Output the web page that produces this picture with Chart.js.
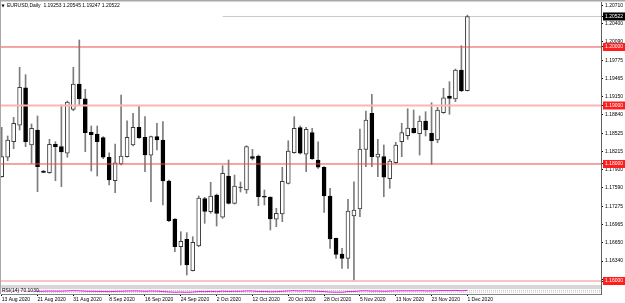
<!DOCTYPE html>
<html>
<head>
<meta charset="utf-8">
<script src="https://cdn.jsdelivr.net/npm/chart.js@4.4.0/dist/chart.umd.min.js"></script>
<style>
  html, body { margin: 0; padding: 0; background: #fff; }
  canvas { display: block; }
</style>
</head>
<body>
<canvas id="eurusd" width="625" height="303"></canvas>
<script>
// EURUSD daily bars, 13 Aug 2020 .. 1 Dec 2020
const opens = [1.17783,1.18115,1.18381,1.18662,1.19304,1.18325,1.18581,1.17880,1.17851,1.18337,
  1.18296,1.18183,1.18935,1.19368,1.19116,1.18542,1.18513,1.18450,1.18115,1.17714,
  1.18000,1.18125,1.18325,1.18627,1.18456,1.18149,1.18467,1.18410,1.17709,1.17060,
  1.16586,1.16713,1.16176,1.16598,1.17407,1.17185,1.17470,1.17089,1.17795,1.17328,
  1.17607,1.17556,1.18125,1.18137,1.17448,1.17436,1.17055,1.17145,1.17670,1.18193,
  1.18621,1.18166,1.18535,1.18068,1.17944,1.17453,1.16730,1.16462,1.16388,1.17111,
  1.17231,1.18251,1.18867,1.18115,1.18125,1.17749,1.18022,1.18381,1.18484,1.18610,
  1.18518,1.18735,1.18525,1.18410,1.18877,1.19162,1.19111,1.19607,1.19253];
const highs = [1.18627,1.18479,1.18798,1.19653,1.19526,1.18684,1.18821,1.17890,1.18422,1.18381,
  1.19009,1.19077,1.19653,1.20120,1.19277,1.18650,1.18650,1.18467,1.18193,1.18342,
  1.19179,1.18740,1.18867,1.18991,1.18809,1.18479,1.18696,1.18723,1.17726,1.17065,
  1.16843,1.16826,1.16757,1.17453,1.17431,1.17687,1.17487,1.17971,1.18068,1.17812,
  1.17692,1.18313,1.18251,1.18154,1.17556,1.17441,1.17243,1.17944,1.18398,1.18809,
  1.18650,1.18627,1.18610,1.18381,1.17954,1.17585,1.16735,1.16559,1.17397,1.17697,
  1.18598,1.18906,1.19191,1.18422,1.18325,1.18080,1.18371,1.18696,1.18945,1.18923,
  1.18821,1.18894,1.19048,1.18969,1.19294,1.19407,1.19624,1.20022,1.20545];
const lows = [1.17773,1.18056,1.18262,1.18581,1.18296,1.18012,1.17527,1.17850,1.17841,1.17714,
  1.17612,1.18115,1.18911,1.19009,1.18210,1.17880,1.17795,1.18091,1.17641,1.17509,
  1.17983,1.18115,1.18308,1.18439,1.17868,1.17356,1.18239,1.17299,1.17014,1.16501,
  1.16274,1.16103,1.16171,1.16586,1.16986,1.17157,1.16940,1.17072,1.17316,1.17316,
  1.17521,1.17499,1.18068,1.17287,1.17299,1.16872,1.16928,1.17014,1.17658,1.18183,
  1.18171,1.17868,1.18080,1.17926,1.17174,1.16559,1.16388,1.16217,1.16217,1.16017,
  1.17099,1.17954,1.17954,1.17783,1.17441,1.17585,1.18012,1.18125,1.18422,1.18525,
  1.18154,1.18479,1.17995,1.18364,1.18867,1.18850,1.19065,1.19236,1.19247];
const closes = [1.18125,1.18410,1.18696,1.19311,1.18381,1.18610,1.17954,1.17858,1.18337,1.18296,
  1.18205,1.19060,1.19368,1.19116,1.18535,1.18501,1.18381,1.18115,1.17726,1.18022,
  1.18137,1.18456,1.18627,1.18450,1.18154,1.18467,1.18410,1.17709,1.17031,1.16586,
  1.16679,1.16274,1.16662,1.17419,1.17191,1.17453,1.17157,1.17841,1.17328,1.17624,
  1.17598,1.18296,1.18097,1.17441,1.17431,1.17060,1.17157,1.17704,1.18222,1.18610,
  1.18183,1.18593,1.18091,1.17944,1.17453,1.16718,1.16456,1.16388,1.17197,1.17214,
  1.18256,1.18752,1.18125,1.18171,1.17773,1.18051,1.18325,1.18535,1.18615,1.18535,
  1.18735,1.18581,1.18398,1.18923,1.19133,1.19123,1.19607,1.19253,1.20522];
// RSI(14) sub window, rough read of the magenta line
const rsi = [55,58,62,68,55,58,50,50,55,53,52,60,64,60,52,50,48,45,42,48,
  50,55,58,56,50,55,54,44,36,30,33,28,33,45,42,47,42,52,46,50,
  50,58,56,46,46,40,42,50,58,63,56,62,55,50,44,34,31,30,44,45,
  58,62,54,55,50,54,58,60,61,60,62,60,58,64,66,65,70,62,70.103];
const rsiLevels = [70, 30];

// time axis, one label every 6 bars
const dateLabels = ['13 Aug 2020','21 Aug 2020','31 Aug 2020','8 Sep 2020','16 Sep 2020',
  '24 Sep 2020','2 Oct 2020','12 Oct 2020','20 Oct 2020','28 Oct 2020','5 Nov 2020',
  '13 Nov 2020','23 Nov 2020','1 Dec 2020'];
const priceTicks = [1.20710,1.20400,1.20090,1.19775,1.19465,1.19150,1.18840,1.18525,
  1.18215,1.17900,1.17590,1.17275,1.16965,1.16650,1.16340,1.16030];
const levels = [1.20000, 1.19000, 1.18000, 1.16000];
const lastPrice = closes[closes.length - 1];

const X_MIN = -0.117, X_MAX = 100.38;
const Y_MIN = 1.157778, Y_MAX = 1.207692;
const FONT = { family: 'Liberation Sans', size: 5 };

function bars(fn) {
  return opens.map((o, i) => ({ x: i, y: fn(i) }));
}

function levelDataset(lv) {
  const pale = lv === 1.19;
  return {
    type: 'line', order: 0,
    data: [{ x: X_MIN, y: lv }, { x: X_MAX, y: lv }],
    borderColor: pale ? '#ffb4b4' : (lv === 1.16 ? '#f08a8a' : '#e84c4c'),
    borderWidth: pale ? 2 : 1, pointRadius: 0
  };
}

const highlighted = v => levels.includes(v) || v === lastPrice;

const frame = {
  id: 'frame',
  beforeDraw(chart) {
    const { ctx, chartArea: a } = chart;
    ctx.save();
    ctx.fillStyle = '#fff';
    ctx.fillRect(0, 0, chart.width, chart.height);
    ctx.fillStyle = '#a8a8a8';
    ctx.fillRect(0, 0, chart.width, 1.5);
    ctx.fillRect(0, 0, 1, a.bottom);
    // separator between price window and indicator window
    ctx.fillStyle = '#b0b0b0';
    ctx.fillRect(0, 285.5, a.right, 1);
    ctx.fillRect(0, 287.5, a.right, 1);
    ctx.restore();
  },
  afterDraw(chart) {
    const ctx = chart.ctx;
    const n = closes.length - 1;
    ctx.save();
    ctx.fillStyle = '#000';
    ctx.textBaseline = 'middle';
    ctx.font = '4px "DejaVu Sans"';
    ctx.fillText('\u25BC', 1.5, 5.5);
    ctx.font = '5px "Liberation Sans"';
    ctx.fillText('EURUSD,Daily  ' + [opens[n], highs[n], lows[n], closes[n]].map(v => v.toFixed(5)).join(' '), 7, 5.5);
    ctx.fillStyle = 'rgba(255,255,255,0.7)';
    ctx.fillRect(1, 288.5, 36, 4.5);
    ctx.fillStyle = '#000';
    ctx.fillText('RSI(14) ' + rsi[n].toFixed(4), 2, 291);
    ctx.restore();
  }
};

new Chart(document.getElementById('eurusd'), {
  type: 'bar',
  data: {
    datasets: [
      // wicks
      { type: 'bar', order: 2, grouped: false, barThickness: 1,
        data: bars(i => [lows[i], highs[i]]), backgroundColor: '#7c7c7c' },
      // bodies
      { type: 'bar', order: 1, grouped: false, barThickness: 4, borderWidth: 1, borderSkipped: false,
        data: bars(i => [opens[i], closes[i]]),
        backgroundColor: opens.map((o, i) => closes[i] > o ? '#ffffff' : '#000000'),
        borderColor: opens.map((o, i) => closes[i] > o ? '#3c3c3c' : '#000000') },
      // last price line
      { type: 'line', order: 3, data: [{ x: 37, y: lastPrice }, { x: X_MAX, y: lastPrice }],
        borderColor: '#c8c8c8', borderWidth: 1, pointRadius: 0 },
      ...levels.map(levelDataset),
      // RSI window
      ...rsiLevels.map(lv => ({ type: 'line', order: 4, yAxisID: 'yRsi',
        data: [{ x: X_MIN, y: lv }, { x: X_MAX, y: lv }],
        borderColor: '#c0c0c0', borderWidth: 1, borderDash: [1, 1], pointRadius: 0 })),
      { type: 'line', order: 0, yAxisID: 'yRsi', data: bars(i => rsi[i]),
        borderColor: '#e01ee0', borderWidth: 1, pointRadius: 0, tension: 0 }
    ]
  },
  options: {
    responsive: false,
    animation: false,
    layout: { padding: { left: 1, top: 2, right: 0, bottom: 0 } },
    plugins: { legend: { display: false }, tooltip: { enabled: false } },
    scales: {
      x: {
        type: 'linear', min: X_MIN, max: X_MAX, offset: false,
        afterBuildTicks: s => { s.ticks = dateLabels.map((d, k) => ({ value: k * 6 })); },
        afterFit: s => { s.height = 9; s.paddingLeft = 0; s.paddingRight = 0; },
        grid: { drawOnChartArea: false, drawTicks: true, tickLength: 2, tickColor: '#000', offset: false },
        border: { display: true, color: '#808080' },
        ticks: { autoSkip: false, maxRotation: 0, align: 'start', padding: 1, color: '#000', font: FONT,
          callback: v => dateLabels[Math.round(v / 6)] }
      },
      y: {
        type: 'linear', position: 'right', min: Y_MIN, max: Y_MAX, bounds: 'data',
        afterBuildTicks: s => {
          s.ticks = priceTicks.concat(levels, [lastPrice]).map(v => ({ value: v }));
        },
        afterFit: s => { s.width = 24; s.paddingTop = 0; s.paddingBottom = 0; },
        grid: { drawOnChartArea: false, drawTicks: true, tickLength: 2, tickColor: '#000' },
        border: { display: true, color: '#606060' },
        ticks: {
          autoSkip: false, padding: 2, font: FONT,
          color: c => highlighted(c.tick.value) ? '#fff' : '#000',
          showLabelBackdrop: c => highlighted(c.tick.value),
          backdropColor: c => c.tick.value === lastPrice ? '#000' : '#ff1e1e',
          backdropPadding: { left: 2, right: 6, top: 1, bottom: 1 },
          callback: v => v.toFixed(5)
        }
      },
      yRsi: { type: 'linear', axis: 'y', position: 'left', display: false, min: -10, max: 6480 }
    }
  },
  plugins: [frame]
});
</script>
</body>
</html>
